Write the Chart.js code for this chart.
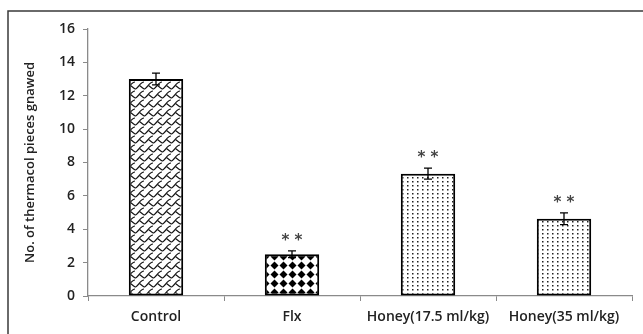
<!DOCTYPE html>
<html>
<head>
<meta charset="utf-8">
<script src="https://cdn.jsdelivr.net/npm/chart.js@4"></script>
<style>
  html, body { margin: 0; padding: 0; background: #fff; }
  #wrap { width: 643px; height: 334px; position: relative; }
</style>
</head>
<body>
<div id="wrap"><canvas id="chart" width="643" height="334"></canvas></div>
<script>
// values
const groups = ['Control', 'Flx', 'Honey(17.5 ml/kg)', 'Honey(35 ml/kg)'];
const means = [13, 2.5, 7.33, 4.63];
const sem = [0.35, 0.2, 0.33, 0.35];
const marks = ['', '**', '**', '**'];
const yTicks = [0, 2, 4, 6, 8, 10, 12, 14, 16];

/* hatch fills like the old excel patterns */
function makeTile(w, h, draw) {
    let c = document.createElement('canvas');
    c.width = w; c.height = h;
    let g = c.getContext('2d');
    g.fillStyle = '#fff';
    g.fillRect(0, 0, w, h);
    draw(g);
    return document.getElementById('chart').getContext('2d').createPattern(c, 'repeat');
}

const shingle = makeTile(9, 9, g => {
    g.strokeStyle = '#111';
    g.lineWidth = 1.2;
    g.beginPath();
    g.moveTo(0, 8);
    g.bezierCurveTo(3, 8, 5, 1, 9, 1);
    g.stroke();
    g.beginPath();
    g.moveTo(4.5, 4.5);
    g.lineTo(9, 8);
    g.stroke();
});

const diamonds = makeTile(9, 9, g => {
    g.fillStyle = '#000';
    g.beginPath();
    g.moveTo(4.5, 0.5); g.lineTo(8.5, 4.5); g.lineTo(4.5, 8.5); g.lineTo(0.5, 4.5);
    g.closePath();
    g.fill();
});

const dots = makeTile(5, 4, g => {
    g.fillStyle = '#222';
    g.fillRect(2, 1, 1.5, 1.5);
});

const fills = [shingle, diamonds, dots, dots];

const framePlugin = {
    id: 'frame',
    beforeDraw(chart) {
        let ctx = chart.ctx;
        ctx.save();
        ctx.strokeStyle = '#3a3a3a';
        ctx.lineWidth = 1.5;
        ctx.beginPath();
        ctx.moveTo(643, 11);
        ctx.lineTo(8, 11);
        ctx.lineTo(8, 334);
        ctx.stroke();
        ctx.restore();
    }
};

const errorPlugin = {
    id: 'errors',
    afterDatasetsDraw(chart) {
        let ctx = chart.ctx;
        let x = chart.scales.x, y = chart.scales.y;
        ctx.save();
        ctx.strokeStyle = '#000';
        ctx.lineWidth = 1.3;
        for (let i = 0; i < means.length; i++) {
            let cx = x.getPixelForValue(i);
            let top = y.getPixelForValue(means[i] + sem[i]);
            let bot = y.getPixelForValue(means[i] - sem[i]);
            ctx.beginPath();
            ctx.moveTo(cx, top); ctx.lineTo(cx, bot);
            ctx.moveTo(cx - 4, top); ctx.lineTo(cx + 4, top);
            ctx.moveTo(cx - 4, bot); ctx.lineTo(cx + 4, bot);
            ctx.stroke();
            if (marks[i]) {
                ctx.fillStyle = '#444';
                ctx.font = 'bold 15px "DejaVu Sans"';
                ctx.textAlign = 'center';
                ctx.textBaseline = 'middle';
                ctx.fillText(marks[i].split('').join(' '), cx, top - 10);
            }
        }
        ctx.restore();
    }
};

new Chart(document.getElementById('chart'), {
    type: 'bar',
    data: {
        labels: groups,
        datasets: [{
            data: means,
            backgroundColor: fills,
            borderColor: '#000',
            borderWidth: 2,
            borderSkipped: false,
            barPercentage: 0.4,
            categoryPercentage: 1
        }]
    },
    options: {
        responsive: false,
        animation: false,
        events: [],
        layout: { padding: { left: 0, top: 29, right: 11, bottom: 0 } },
        plugins: { legend: { display: false }, tooltip: { enabled: false } },
        scales: {
            x: {
                offset: true,
                grid: { offset: true, drawOnChartArea: false, tickLength: 5, color: '#8a8a8a' },
                border: { color: '#8a8a8a', width: 1.3 },
                ticks: { color: '#222', padding: 8, font: { family: 'Open Sans', size: 14, weight: '600' } },
                afterFit(s) { s.height = 38; }
            },
            y: {
                min: 0,
                max: 16,
                afterBuildTicks(s) { s.ticks = yTicks.map(v => ({ value: v })); },
                grid: { drawOnChartArea: false, tickLength: 5, color: '#8a8a8a' },
                border: { color: '#8a8a8a', width: 1.3 },
                ticks: { color: '#222', padding: 8, font: { family: 'Open Sans', size: 14, weight: '600' } },
                title: {
                    display: true,
                    text: 'No. of thermacol pieces gnawed',
                    color: '#222',
                    padding: { top: 22, bottom: 0 },
                    font: { family: 'Open Sans', size: 13, weight: '600' }
                },
                afterFit(s) { s.width = 88; }
            }
        }
    },
    plugins: [framePlugin, errorPlugin]
});
</script>
</body>
</html>
